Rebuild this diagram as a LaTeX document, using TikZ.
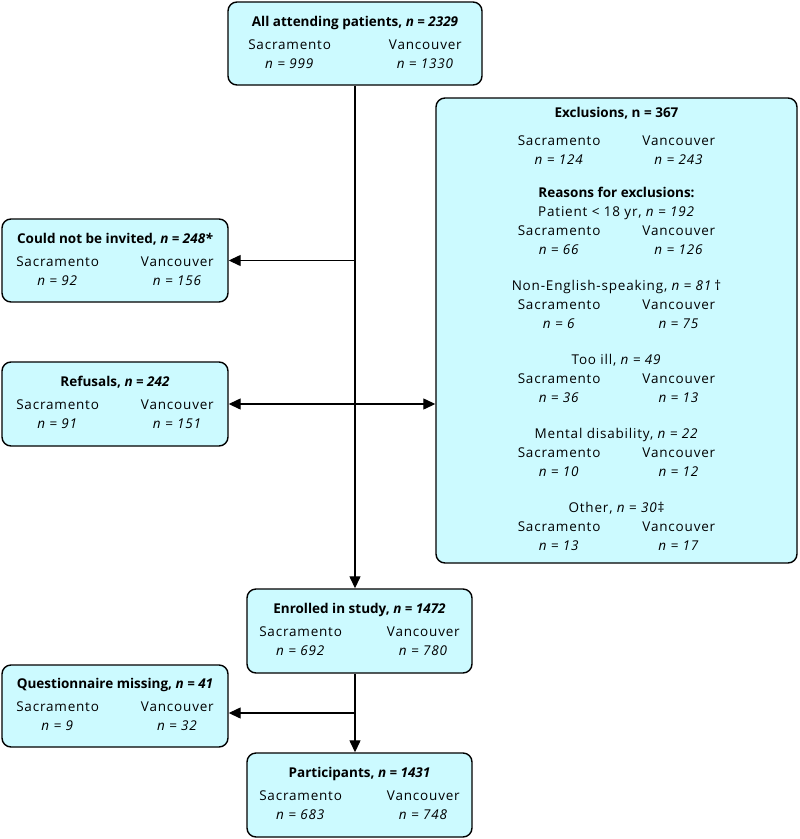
\documentclass[tikz,border=0pt]{standalone}
\usepackage{fontspec}
\setmainfont{Open Sans}[LetterSpace=6, BoldFeatures={LetterSpace=0}, BoldItalicFeatures={LetterSpace=0}]
\usepackage{tikz}
\usetikzlibrary{arrows.meta}
\usepackage{xcolor}
\definecolor{boxcyan}{HTML}{CCFAFF}

% title line, then the two sites with their counts
\newcommand{\sitecounts}[4][46pt]{%
  \begin{tabular}{@{}c@{\hspace{#1}}c@{}}
    \multicolumn{2}{c}{\makebox[0pt]{#2}}\\[4pt]
    Sacramento & Vancouver\\
    \textit{n = #3} & \textit{n = #4}
  \end{tabular}}
\newcommand{\reason}[3]{%
  \multicolumn{2}{c}{\makebox[0pt]{#1}}\\
  Sacramento & Vancouver\\
  \textit{n = #2} & \textit{n = #3}}

\begin{document}
\begin{tikzpicture}[
    x=1pt, y=-1pt,
    every node/.style={draw, line width=1.4pt, rounded corners=9pt, fill=boxcyan, inner sep=0pt, align=center, font=\fontsize{13.5}{19}\selectfont},
    arr/.style={-{Triangle[length=12pt,width=11pt]}, line width=1.3pt},
    both/.style={{Triangle[length=12pt,width=11pt]}-{Triangle[length=12pt,width=11pt]}, line width=1.3pt}
]
\useasboundingbox (0,0) rectangle (800,839);
\node (all) [minimum width=254pt, minimum height=83pt] at (355,43.5)
  {\sitecounts[58pt]{\textbf{All attending patients, \textit{n = 2329}}}{999}{1330}};
\node (notinv) [minimum width=226pt, minimum height=83pt] at (115,260.5)
  {\sitecounts[42pt]{\textbf{Could not be invited, \textit{n = 248*}}}{92}{156}};
\node (refus) [minimum width=226pt, minimum height=84pt] at (115,404)
  {\sitecounts[42pt]{\textbf{Refusals, \textit{n = 242}}}{91}{151}};
\node (excl) [minimum width=361pt, minimum height=465pt] at (616.5,330.5)
  {\begin{tabular}{@{}c@{\hspace{42pt}}c@{}}
     \multicolumn{2}{c}{\makebox[0pt]{\textbf{Exclusions, n = 367}}}\\[9pt]
     Sacramento & Vancouver\\
     \textit{n = 124} & \textit{n = 243}\\[14pt]
     \multicolumn{2}{c}{\makebox[0pt]{\textbf{Reasons for exclusions:}}}\\
     \reason{Patient < 18 yr, \textit{n = 192}}{66}{126}\\[17pt]
     \reason{Non-English-speaking, \textit{n = 81}\,†}{6}{75}\\[17pt]
     \reason{Too ill, \textit{n = 49}}{36}{13}\\[17pt]
     \reason{Mental disability, \textit{n = 22}}{10}{12}\\[17pt]
     \reason{Other, \textit{n = 30}‡}{13}{17}
   \end{tabular}};
\node (enrol) [minimum width=225pt, minimum height=84pt] at (359.5,631)
  {\sitecounts[45pt]{\textbf{Enrolled in study, \textit{n = 1472}}}{692}{780}};
\node (qmiss) [minimum width=226pt, minimum height=82pt] at (115,706)
  {\sitecounts[42pt]{\textbf{Questionnaire missing, \textit{n = 41}}}{9}{32}};
\node (part) [minimum width=225pt, minimum height=84pt] at (359.5,795)
  {\sitecounts[45pt]{\textbf{Participants, \textit{n = 1431}}}{683}{748}};
\draw[arr] (all.south) -- (all.south |- enrol.north);
\draw[arr] (all.south |- notinv.east) -- (notinv.east);
\draw[both] (refus.east) -- (refus.east -| excl.west);
\draw[arr] (all.south |- enrol.south) -- (all.south |- part.north);
\draw[arr] (all.south |- 0,713) -- ([yshift=-7pt]qmiss.east);
\end{tikzpicture}
\end{document}
